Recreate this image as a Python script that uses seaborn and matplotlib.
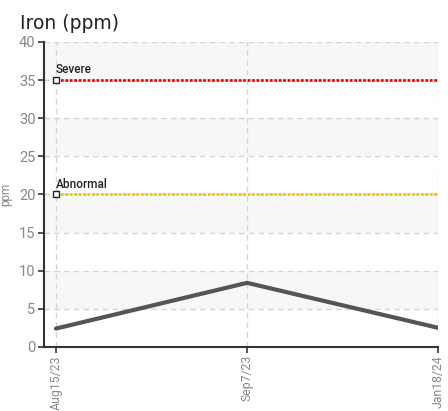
import matplotlib
matplotlib.use('Agg')
import matplotlib.pyplot as plt
import seaborn as sns
import pandas as pd

# data
dates = ['Aug15/23', 'Sep7/23', 'Jan18/24']
iron = [2.4, 8.4, 2.5]
limit_names = ['Severe', 'Abnormal']
limit_values = [35, 20]
limit_colors = ['#ff0000', '#f5c400']

sns.set_theme(style='white')
plt.rcParams['font.family'] = ['Roboto', 'DejaVu Sans']

df = pd.DataFrame({'date': dates, 'iron': iron, 'pos': range(len(dates))})

fig = plt.figure(figsize=(4.48, 4.11), dpi=100)
ax = fig.add_axes([0.098, 0.156, 0.88, 0.742])

# alternating bands
for lo in range(0, 40, 5):
    if (lo // 5) % 2 == 1:
        ax.axhspan(lo, lo + 5, color='#f7f7f7', zorder=0, lw=0)

sns.lineplot(data=df, x='pos', y='iron', ax=ax, color='#555555', lw=3, zorder=3)

for name, val, col in zip(limit_names, limit_values, limit_colors):
    ax.plot([0, len(dates) - 1], [val, val], color=col, lw=2, ls=(0, (1, 0.6)), zorder=2)
    ax.plot([0], [val], marker='s', ms=4, mfc='white', mec='#222222', mew=1, zorder=4)
    ax.text(0, val + 0.5, name, fontsize=8.5, color='#222222', va='bottom', ha='left',
            fontweight='medium')

ax.set_xlim(-0.063, 2.0)
ax.set_ylim(0, 40)
ax.set_yticks(range(0, 41, 5))
ax.set_xticks(df['pos'])
ax.set_xticklabels(dates, rotation=90)
ax.grid(True, ls=(0, (4, 3)), color='#d5d5d5', lw=1)
ax.tick_params(axis='both', colors='#333333', labelcolor='#888888', labelsize=10.5,
               length=4, width=1.2, direction='out', bottom=True, left=True, pad=2)
ax.tick_params(axis='x', labelsize=8.8)
for s in ['top', 'right']:
    ax.spines[s].set_visible(False)
for s in ['left', 'bottom']:
    ax.spines[s].set_color('#333333')
    ax.spines[s].set_linewidth(1.5)
ax.set_xlabel('')
ax.set_ylabel('ppm', color='#888888', fontsize=8.5, labelpad=5)

fig.text(0.045, 0.93, 'Iron (ppm)', fontsize=13.5, color='#222222', family=['DejaVu Sans'])

fig.savefig('out.png', dpi=100)
